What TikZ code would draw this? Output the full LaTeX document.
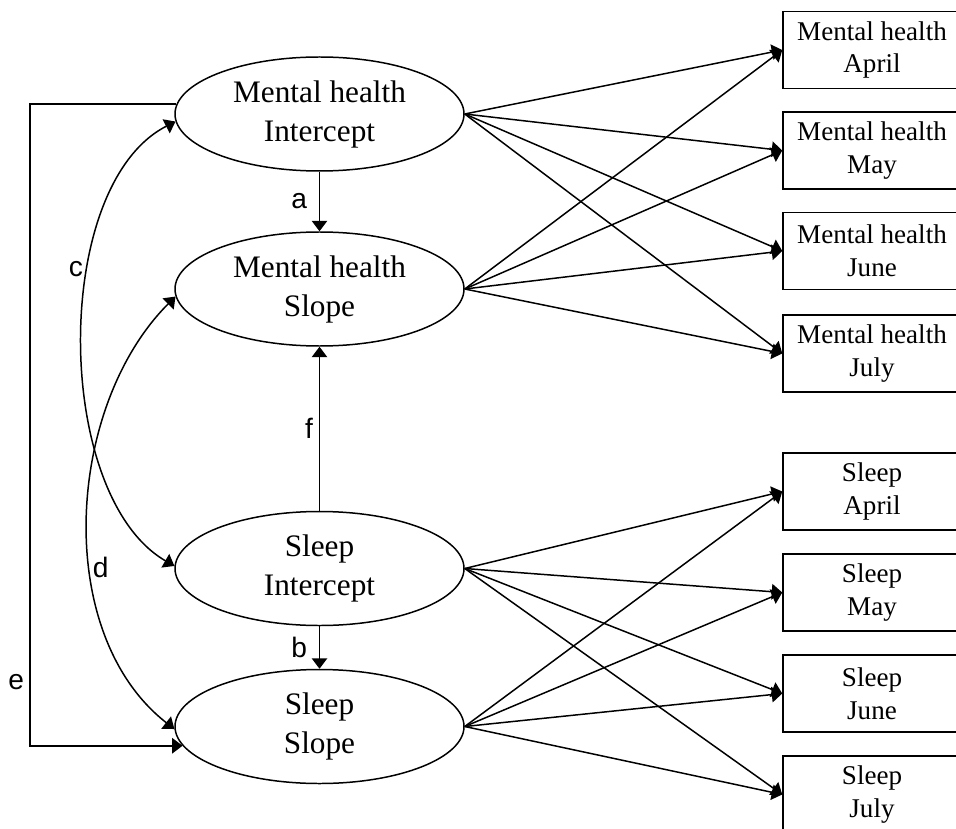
\documentclass[tikz,border=0pt]{standalone}
\usepackage{fontspec}
\setmainfont{Liberation Serif}
\newfontfamily\lblfont{Liberation Sans}
\usetikzlibrary{arrows.meta, positioning, shapes}

\begin{document}
\begin{tikzpicture}[>={Triangle[length=0.21cm, width=0.31cm]}]
		\tikzstyle{latent} = [draw=black, line width=0.85pt, ellipse, minimum width=5.78cm, minimum height=2.28cm, inner sep=0pt, align=center, font=\fontsize{17.8}{22.2}\selectfont]
		\tikzstyle{observed} = [draw=black, line width=0.85pt, rectangle, minimum width=3.56cm, minimum height=1.54cm, inner sep=0pt, align=center, font=\fontsize{15.4}{18.7}\selectfont]
		\tikzstyle{lbl} = [draw=none, inner sep=1pt, font=\lblfont\fontsize{16}{19}\selectfont]
		\tikzstyle{arrow} = [line width=0.85pt, ->]
		\tikzstyle{twoway} = [line width=0.85pt, <->]
		
		\useasboundingbox (0, 0) rectangle (19.12, 16.56);
		
		% growth factors
		\node[latent] 	at (6.39, 14.28) 	(mhi) 	{Mental health\\Intercept};
		\node[latent] 	at (6.39, 10.78) 	(mhs) 	{Mental health\\Slope};
		\node[latent] 	at (6.39, 5.19) 	(sli) 	{Sleep\\Intercept};
		\node[latent] 	at (6.39, 2.03) 	(sls) 	{Sleep\\Slope};
		
		% measurements
		\node[observed] at (17.44, 15.56) 	(mhapr) {Mental health\\April};
		\node[observed] at (17.44, 13.55) 	(mhmay) {Mental health\\May};
		\node[observed] at (17.44, 11.54) 	(mhjun) {Mental health\\June};
		\node[observed] at (17.44, 9.49) 	(mhjul) {Mental health\\July};
		\node[observed] at (17.44, 6.73) 	(slapr) {Sleep\\April};
		\node[observed] at (17.44, 4.71) 	(slmay) {Sleep\\May};
		\node[observed] at (17.44, 2.69) 	(sljun) {Sleep\\June};
		\node[observed] at (17.44, 0.67) 	(sljul) {Sleep\\July};
		
		\coordinate (ecol) at (0.6, 8);
		
		\path[arrow]
			(mhi) 	edge 	node[lbl, left=0.2cm] 	{a} 	(mhs)
			(sli) 	edge 	node[lbl, left=0.08cm] 	{f} 	(mhs)
			(sli) 	edge 	node[lbl, left=0.2cm] 	{b} 	(sls)
			(mhi.east) 	edge 	(mhapr.west)
			(mhi.east) 	edge 	(mhmay.west)
			(mhi.east) 	edge 	(mhjun.west)
			(mhi.east) 	edge 	(mhjul.west)
			(mhs.east) 	edge 	(mhapr.west)
			(mhs.east) 	edge 	(mhmay.west)
			(mhs.east) 	edge 	(mhjun.west)
			(mhs.east) 	edge 	(mhjul.west)
			(sli.east) 	edge 	(slapr.west)
			(sli.east) 	edge 	(slmay.west)
			(sli.east) 	edge 	(sljun.west)
			(sli.east) 	edge 	(sljul.west)
			(sls.east) 	edge 	(slapr.west)
			(sls.east) 	edge 	(slmay.west)
			(sls.east) 	edge 	(sljun.west)
			(sls.east) 	edge 	(sljul.west);
		
		% covariances
		\draw[twoway] (mhi.183) .. controls +(207:2.8) and +(150:2.8) .. node[lbl, pos=0.37, left=2pt] {c} (sli.179);
		\draw[twoway] (mhs.183) .. controls +(225:3.1) and +(142:3.1) .. node[lbl, pos=0.6, right=0pt] {d} (sls.181);
		\draw[arrow] (mhi.176) -- (mhi.176 -| ecol) |- node[lbl, pos=0.45, left=2pt] {e} (sls.188);
	\end{tikzpicture}
\end{document}
